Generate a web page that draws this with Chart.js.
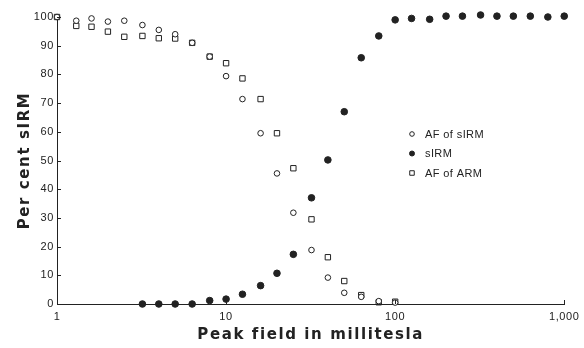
<!DOCTYPE html>
<html>
<head>
<meta charset="utf-8">
<script src="https://cdn.jsdelivr.net/npm/chart.js@4.4.1/dist/chart.umd.min.js"></script>
<style>
  html, body { margin: 0; padding: 0; background: #fff; }
  #wrap { width: 584px; height: 348px; position: relative; }
</style>
</head>
<body>
<div id="wrap"><canvas id="c" width="584" height="348"></canvas></div>
<script>
// ---- data ----
const afFields = [1, 1.3, 1.6, 2, 2.5, 3.2, 4, 5, 6.3, 8, 10, 12.5, 16, 20, 25, 32, 40, 50, 63, 80, 100];
const afSirm   = [100, 98.7, 99.5, 98.4, 98.7, 97.2, 95.5, 94, 91, 86.2, 79.4, 71.4, 59.5, 45.5, 31.8, 18.8, 9.2, 3.9, 2.5, 1, 0.5];
const afArm    = [100, 96.9, 96.6, 94.9, 93.1, 93.4, 92.6, 92.5, 91, 86.2, 83.9, 78.6, 71.4, 59.5, 47.3, 29.5, 16.3, 8, 3.1, 0.6, 0.8];
const sirmFields = [3.2, 4, 5, 6.3, 8, 10, 12.5, 16, 20, 25, 32, 40, 50, 63, 80, 100, 125, 160, 200, 250, 320, 400, 500, 630, 800, 1000];
const sirm       = [0, 0, 0, 0, 1.2, 1.7, 3.4, 6.4, 10.7, 17.3, 37, 50.2, 67, 85.8, 93.4, 99, 99.5, 99.2, 100.3, 100.3, 100.7, 100.3, 100.3, 100.3, 100, 100.3];
const xTicks = [1, 10, 100, 1000];
const xTickLabels = ['1', '10', '100', '1,000'];
const yTicks = [0, 10, 20, 30, 40, 50, 60, 70, 80, 90, 100];
const seriesNames = ['AF of sIRM', 'sIRM', 'AF of ARM'];

const ink = '#222';
const toPts = (xs, ys) => xs.map((x, i) => ({ x: x, y: ys[i] }));

// widen letter spacing of tick labels and axis titles (text stays real canvas text)
const spacing = {
  id: 'spacing',
  beforeDraw(chart) {
    Object.values(chart.scales).forEach(s => {
      if (s._spacingPatched) return;
      s._spacingPatched = true;
      const origTitle = s.drawTitle.bind(s);
      const origLabels = s.drawLabels.bind(s);
      s.drawTitle = function () {
        const ctx = this.ctx; ctx.save(); ctx.letterSpacing = '1.6px'; origTitle(); ctx.restore();
      };
      s.drawLabels = function (a) {
        const ctx = this.ctx; ctx.save(); ctx.letterSpacing = '0.6px'; origLabels(a); ctx.restore();
      };
    });
  }
};

const inwardTicks = {
  id: 'inwardTicks',
  afterDraw(chart) {
    const ctx = chart.ctx, xs = chart.scales.x, ys = chart.scales.y;
    const a = chart.chartArea;
    ctx.save();
    ctx.strokeStyle = ink;
    ctx.lineWidth = 1;
    ctx.beginPath();
    yTicks.forEach(v => {
      const py = Math.round(ys.getPixelForValue(v)) + 0.5;
      ctx.moveTo(a.left, py); ctx.lineTo(a.left + 4, py);
    });
    xTicks.forEach(v => {
      const px = Math.round(xs.getPixelForValue(v)) + 0.5;
      ctx.moveTo(px, a.bottom); ctx.lineTo(px, a.bottom - 4);
    });
    ctx.stroke();
    ctx.restore();
  }
};

const customLegend = {
  id: 'customLegend',
  afterDraw(chart) {
    const ctx = chart.ctx;
    const a = chart.chartArea;
    const x0 = a.left + 355, y0 = a.top + 117, gap = 19.5;
    ctx.save();
    ctx.font = '11px "Liberation Sans", Arial, sans-serif';
    ctx.letterSpacing = '0.4px';
    ctx.textBaseline = 'middle';
    ctx.textAlign = 'left';
    chart.data.datasets.forEach((ds, i) => {
      const y = y0 + i * gap;
      ctx.fillStyle = ds.backgroundColor;
      ctx.strokeStyle = ds.borderColor;
      ctx.lineWidth = 1;
      Chart.helpers.drawPoint(ctx, { pointStyle: ds.pointStyle, radius: ds.legendRadius, borderWidth: 1, rotation: 0 }, x0, y);
      ctx.fillStyle = ink;
      ctx.fillText(ds.label, x0 + 13, y + 0.5);
    });
    ctx.restore();
  }
};

new Chart(document.getElementById('c'), {
  type: 'scatter',
  data: {
    datasets: [
      { label: seriesNames[0], data: toPts(afFields, afSirm), pointStyle: 'circle', pointRadius: 2.8,
        backgroundColor: '#fff', borderColor: ink, borderWidth: 1, legendRadius: 2.3, order: 1 },
      { label: seriesNames[1], data: toPts(sirmFields, sirm), pointStyle: 'circle', pointRadius: 3.3,
        backgroundColor: ink, borderColor: ink, borderWidth: 1, legendRadius: 2.5, order: 0 },
      { label: seriesNames[2], data: toPts(afFields, afArm), pointStyle: 'rect', pointRadius: 3.8,
        backgroundColor: 'rgba(255,255,255,0)', borderColor: ink, borderWidth: 1, legendRadius: 3.2, order: 2 }
    ]
  },
  options: {
    responsive: false,
    animation: false,
    events: [],
    clip: false,
    layout: { padding: { top: 17, right: 14, left: 0, bottom: 0 } },
    plugins: { legend: { display: false }, tooltip: { enabled: false } },
    scales: {
      x: {
        type: 'logarithmic', min: 1, max: 1000,
        afterBuildTicks: s => { s.ticks = xTicks.map(v => ({ value: v })); },
        afterFit: s => { s.height = 44; },
        grid: { drawOnChartArea: false, drawTicks: false },
        border: { display: true, color: ink, width: 1 },
        ticks: {
          color: ink, padding: 6, maxRotation: 0, autoSkip: false,
          font: { family: '"Liberation Sans", Arial, sans-serif', size: 11 },
          callback: (v) => { const i = xTicks.indexOf(v); return i >= 0 ? xTickLabels[i] : ''; }
        },
        title: {
          display: true, text: 'Peak field in millitesla', color: ink,
          font: { family: '"DejaVu Sans", sans-serif', size: 15, weight: 'bold' },
          padding: { top: 0, bottom: 4 }
        }
      },
      y: {
        type: 'linear', min: 0, max: 100,
        afterBuildTicks: s => { s.ticks = yTicks.map(v => ({ value: v })); },
        afterFit: s => { s.width = 57; },
        grid: { drawOnChartArea: false, drawTicks: false },
        border: { display: true, color: ink, width: 1 },
        ticks: {
          color: ink, padding: 3,
          font: { family: '"Liberation Sans", Arial, sans-serif', size: 11 }
        },
        title: {
          display: true, text: 'Per cent sIRM', color: ink,
          font: { family: '"DejaVu Sans", sans-serif', size: 15, weight: 'bold' },
          padding: { top: 16, bottom: 0 }
        }
      }
    }
  },
  plugins: [spacing, inwardTicks, customLegend]
});
</script>
</body>
</html>
